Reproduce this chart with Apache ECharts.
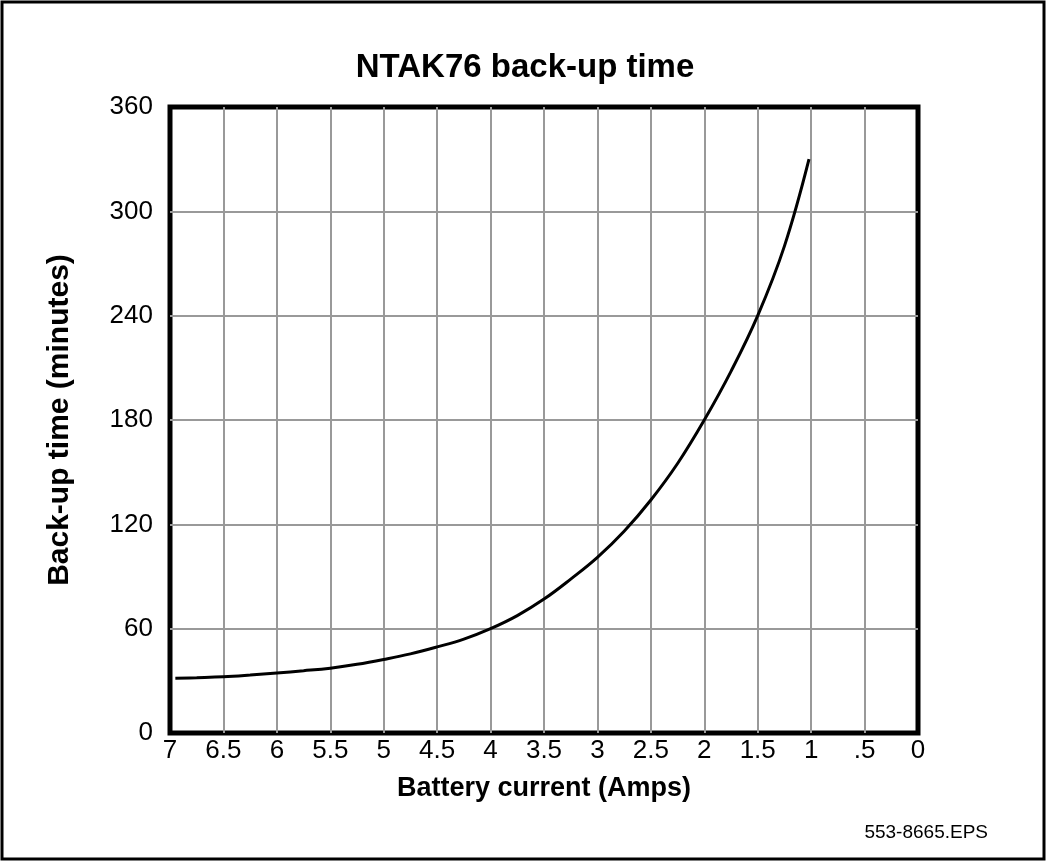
<!DOCTYPE html>
<html>
<head>
<meta charset="utf-8">
<script src="https://cdn.jsdelivr.net/npm/echarts@6/dist/echarts.min.js"></script>
<style>
    html, body { margin: 0; padding: 0; background: #fff; }
    #main { width: 1050px; height: 863px; }
</style>
</head>
<body>
<div id="main"></div>
<script>
// battery current (Amps) and back-up time (minutes)
var current = [6.95, 6.75, 6.5, 6.25, 6, 5.75, 5.5, 5.25, 5, 4.75, 4.5, 4.25, 4, 3.75, 3.5, 3.25, 3, 2.75, 2.5, 2.25, 2, 1.75, 1.5, 1.25, 1.02];
var minutes = [31.5, 31.8, 32.3, 33.3, 34.5, 35.8, 37.3, 39.5, 42.3, 45.5, 49.5, 54, 60, 67.5, 77, 88.5, 101, 116, 134, 155, 180, 208, 240, 280, 330];

var FONT = '"Liberation Sans", Arial, Helvetica, sans-serif';

var points = current.map(function (c, i) { return [c, minutes[i]]; });

var chart = echarts.init(document.getElementById('main'));
var option = {
    backgroundColor: '#fff',
    animation: false,
    title: {
        text: 'NTAK76 back-up time',
        left: 'center',
        top: 46,
        textStyle: { fontFamily: FONT, fontSize: 33, fontWeight: 'bold', color: '#000' }
    },
    grid: {
        left: 170, right: 132, top: 107, bottom: 130,
        show: true, borderColor: '#000', borderWidth: 5, backgroundColor: 'transparent'
    },
    xAxis: {
        type: 'value',
        min: 0, max: 7, interval: 0.5,
        inverse: true,
        name: 'Battery current (Amps)',
        nameLocation: 'middle',
        nameGap: 42,
        nameTextStyle: { fontFamily: FONT, fontSize: 27, fontWeight: 'bold', color: '#000' },
        axisLine: { show: false },
        axisTick: { show: false },
        axisLabel: {
            margin: 5,
            fontFamily: FONT, fontSize: 26, color: '#000',
            formatter: function (v) { return v === 0.5 ? '.5' : String(v); }
        },
        splitLine: { show: true, showMinLine: false, showMaxLine: false, lineStyle: { color: '#999', width: 2 } }
    },
    yAxis: {
        type: 'value',
        min: 0, max: 360, interval: 60,
        name: 'Back-up time (minutes)',
        nameLocation: 'middle',
        nameGap: 95,
        nameTextStyle: { fontFamily: FONT, fontSize: 30, fontWeight: 'bold', color: '#000' },
        axisLine: { show: false },
        axisTick: { show: false },
        axisLabel: { margin: 17, fontFamily: FONT, fontSize: 26, color: '#000' },
        splitLine: { show: true, showMinLine: false, showMaxLine: false, lineStyle: { color: '#999', width: 2 } }
    },
    series: [{
        type: 'line',
        data: points,
        smooth: 0.4,
        showSymbol: false,
        lineStyle: { color: '#000', width: 3 },
        z: 5
    }],
    graphic: [
        {
            type: 'rect',
            shape: { x: 2, y: 2, width: 1042, height: 857 },
            style: { fill: null, stroke: '#000', lineWidth: 3 },
            silent: true
        },
        {
            type: 'text',
            right: 62, top: 823,
            style: { text: '553-8665.EPS', font: '19px ' + FONT, fill: '#000' }
        }
    ]
};
chart.setOption(option);
</script>
</body>
</html>
